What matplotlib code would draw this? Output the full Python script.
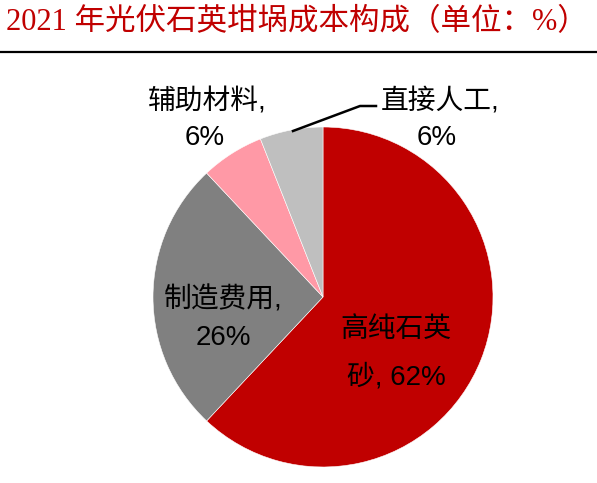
import matplotlib
matplotlib.use("Agg")
import matplotlib.pyplot as plt
from matplotlib.lines import Line2D

plt.rcParams['font.family'] = ['Liberation Sans', 'Noto Sans CJK SC', 'DejaVu Sans']

# data
categories = ['高纯石英砂', '制造费用', '辅助材料', '直接人工']
shares = [62, 26, 6, 6]
colors = ['#C00000', '#808080', '#FF99A6', '#BFBFBF']

W, H = 597, 483
fig = plt.figure(figsize=(W / 100, H / 100), dpi=100)

# pie centre (323, 297) px, radius 170 px
cx, cy, r = 323, 297, 170
ax = fig.add_axes([(cx - r) / W, (H - cy - r) / H, 2 * r / W, 2 * r / H])
ax.pie(shares, colors=colors, startangle=90, counterclock=False,
       wedgeprops=dict(edgecolor='white', linewidth=0.4))
ax.set_xlim(-1, 1)
ax.set_ylim(-1, 1)
ax.set_aspect('equal')


def p(px, py):
    return (px - cx) / r, (cy - py) / r


# labels (line by line, pixel positions from the reference)
lbl = dict(ha='center', va='center', fontsize=20, color='black')
ax.text(*p(396, 330), '高纯石英', **lbl)
ax.text(*p(396, 377), f'砂, {shares[0]}%', **lbl)
ax.text(*p(223, 300), '制造费用,', **lbl)
ax.text(*p(223, 338), f'{shares[1]}%', **lbl)
ax.text(*p(207, 102), '辅助材料,', **lbl)
ax.text(*p(205, 138), f'{shares[2]}%', **lbl)
ax.text(*p(440, 102), '直接人工,', **lbl)
ax.text(*p(437, 138), f'{shares[3]}%', **lbl)

# leader line for 直接人工
x0, y0 = p(293, 131)
x1, y1 = p(360, 106)
x2, y2 = p(376, 106)
ax.plot([x0, x1, x2], [y0, y1, y2], color='black', lw=1.8, clip_on=False)

# title
fig.text(6 / W, 1 - 23 / H, '2021 年光伏石英坩埚成本构成（单位：%）',
         ha='left', va='center', fontsize=22, color='#C00000',
         family=['Liberation Serif', 'Noto Sans CJK SC'])
fig.add_artist(Line2D([0, 1], [1 - 52 / H, 1 - 52 / H], color='black', lw=1.6,
                      transform=fig.transFigure))

fig.savefig('out.png', dpi=100, facecolor='white')
